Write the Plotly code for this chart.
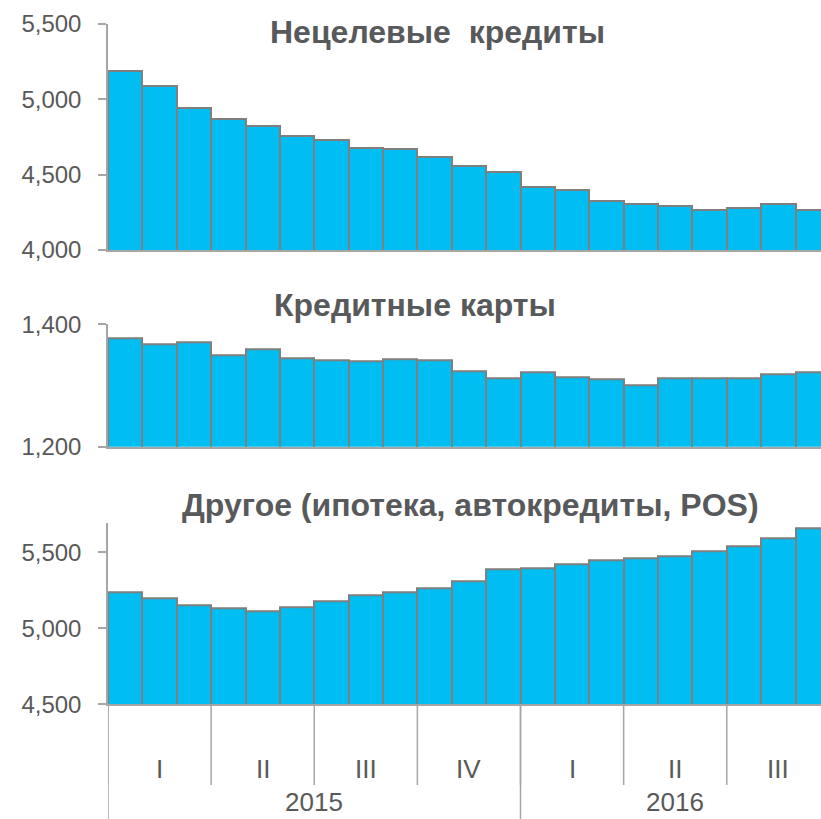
import plotly.graph_objects as go

months = ["01.2015", "02.2015", "03.2015", "04.2015", "05.2015", "06.2015",
          "07.2015", "08.2015", "09.2015", "10.2015", "11.2015", "12.2015",
          "01.2016", "02.2016", "03.2016", "04.2016", "05.2016", "06.2016",
          "07.2016", "08.2016", "09.2016"]

unsecured = [5190, 5090, 4945, 4870, 4822, 4756, 4732, 4677, 4669, 4617, 4556,
             4516, 4415, 4396, 4327, 4303, 4290, 4266, 4277, 4305, 4268]
cards = [1377, 1368, 1370, 1349, 1359, 1345, 1342, 1339, 1343, 1342, 1324,
         1311, 1321, 1314, 1310, 1301, 1312, 1312, 1311, 1319, 1322]
other = [5235, 5194, 5149, 5132, 5114, 5140, 5175, 5219, 5239, 5265, 5309,
         5388, 5392, 5418, 5445, 5458, 5476, 5509, 5541, 5590, 5655]

titles = ["Нецелевые\u00a0 кредиты", "Кредитные карты",
          "Другое (ипотека, автокредиты, POS)"]
quarters = ["I", "II", "III", "IV", "I", "II", "III"]
quarter_len = [3, 3, 3, 3, 3, 3, 3]
years = ["2015", "2016"]
year_len = [12, 9]

W, H = 821, 819
FILL = "#00BEF2"
EDGE = "#7F7F7F"
AXIS = "#A6A6A6"
TXT = "#595959"
TITLE = "#58595B"
FONT = "Liberation Sans, Arial, sans-serif"

def py(px):
    return 1 - px / H

fig = go.Figure()
series = [unsecured, cards, other]
ranges = [[4000, 5500], [1200, 1400], [4500, 5690]]
tickv = [[4000, 4500, 5000, 5500], [1200, 1400], [4500, 5000, 5500]]
domains = [[py(250), py(24)], [py(446.7), py(324.3)], [py(704.3), py(523.3)]]
xr = [-0.5, -0.5 + (W - 107.5) / 34.4]

layout = dict(
    autosize=True,
    margin=dict(l=107.5, r=0, t=0, b=0, autoexpand=False),
    plot_bgcolor="white", paper_bgcolor="white",
    bargap=0, showlegend=False,
    font=dict(family=FONT, color=TXT, size=24),
)

for i, vals in enumerate(series):
    k = "" if i == 0 else str(i + 1)
    fig.add_trace(go.Bar(
        x=list(range(len(months))), y=vals,
        xaxis="x" + k, yaxis="y" + k,
        marker=dict(color=FILL, line=dict(color=EDGE, width=2)),
        hovertext=months,
    ))
    layout["xaxis" + k] = dict(
        domain=[0, 1], anchor="y" + k, range=xr,
        showticklabels=False, ticks="", showgrid=False, zeroline=False,
        showline=True, linecolor=AXIS, linewidth=1.5,
    )
    layout["yaxis" + k] = dict(
        domain=domains[i], anchor="x" + k, range=ranges[i],
        tickvals=tickv[i], tickformat=",", showgrid=False, zeroline=False,
        showline=True, linecolor=AXIS, linewidth=1.5,
        ticks="outside", ticklen=8, tickcolor=AXIS, tickwidth=1.5,
        ticklabelstandoff=12,
        tickfont=dict(size=24, color=TXT, family=FONT),
    )

fig.update_layout(**layout)

# panel titles
title_pos = [(437, 32), (415, 305), (470, 505)]
for (cx, cy), t in zip(title_pos, titles):
    fig.add_annotation(
        text="<b>" + t + "</b>", xref="paper", yref="paper",
        x=(cx - 107.5) / (W - 107.5), y=py(cy), showarrow=False,
        xanchor="center", yanchor="middle",
        font=dict(size=32, color=TITLE, family=FONT),
    )

# bottom category axis: quarter and year separators/labels
base = py(704.3)
q_bottom = py(785)
start = 0
for q, n in zip(quarters, quarter_len):
    fig.add_shape(type="line", xref="x3", yref="paper",
                  x0=start - 0.5, x1=start - 0.5, y0=base, y1=q_bottom,
                  line=dict(color=AXIS, width=1.5))
    fig.add_annotation(text=q, xref="x3", yref="paper",
                       x=start + (n - 1) / 2, y=py(769), showarrow=False,
                       xanchor="center", yanchor="middle",
                       font=dict(size=26, color=TXT, family=FONT))
    start += n

start = 0
for yl, n in zip(years, year_len):
    fig.add_shape(type="line", xref="x3", yref="paper",
                  x0=start - 0.5, x1=start - 0.5, y0=base, y1=0,
                  line=dict(color=AXIS, width=1.5))
    fig.add_annotation(text=yl, xref="x3", yref="paper",
                       x=start + (n - 1) / 2, y=py(802), showarrow=False,
                       xanchor="center", yanchor="middle",
                       font=dict(size=26, color=TXT, family=FONT))
    start += n

fig.write_html(
    "out.html",
    config={"displayModeBar": False, "responsive": True},
    default_width="100vw",
    default_height="100vh",
    post_script="document.documentElement.style.overflow='hidden';"
                "document.body.style.margin='0';"
                "document.body.style.overflow='hidden';",
)
